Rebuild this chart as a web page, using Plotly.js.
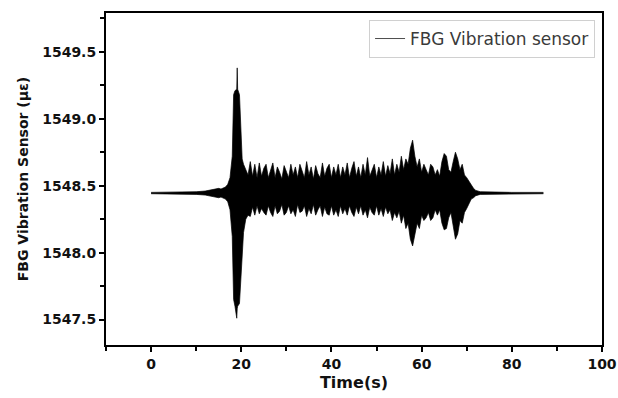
<!DOCTYPE html>
<html>
<head>
<meta charset="utf-8">
<script src="https://cdn.plot.ly/plotly-3.0.1.min.js"></script>
<style>html,body{margin:0;padding:0;background:#fff;}#chart{width:618px;height:398px;}</style>
</head>
<body>
<div id="chart"></div>
<script>
// Time (s) sample points
const timeS = [0,5,10,12,13,14,14.5,15,15.5,16,16.5,17,17.5,18,18.3,18.6,19.0,19.1,19.2,19.6,19.9,20.2,20.5,
21,21.5,22,22.5,23,23.5,24,24.5,25,25.5,26,26.5,27,27.5,28,28.5,29,29.5,30,30.5,31,31.5,32,32.5,33,33.5,34,34.5,35,35.5,36,36.5,37,37.5,38,38.5,39,39.5,40,
40.5,41,41.5,42,42.5,43,43.5,44,44.5,45,45.5,46,46.5,47,47.5,48,48.5,49,49.5,50,50.5,51,51.5,52,52.5,53,53.5,54,54.5,55,55.5,56,56.5,57,57.5,58,58.5,59,59.5,60,
60.5,61,61.5,62,62.5,63,63.5,64,64.5,65,65.5,66,66.5,67,67.5,68,68.5,69,69.5,70,70.5,71,71.5,72,73,80,87];

// Upper envelope of the FBG signal
const upperEnv = [1548.45,1548.45,1548.455,1548.46,1548.465,1548.47,1548.475,1548.48,1548.475,1548.48,1548.49,1548.51,1548.56,1548.72,1549.18,1549.21,1549.22,1549.38,1549.22,1549.18,1548.85,1548.70,1548.66,
1548.62,1548.58,1548.68,1548.57,1548.66,1548.56,1548.67,1548.57,1548.63,1548.66,1548.56,1548.62,1548.67,1548.56,1548.64,1548.60,1548.55,1548.65,1548.60,1548.56,1548.66,1548.58,1548.64,1548.56,1548.66,1548.60,1548.56,1548.68,1548.58,1548.64,1548.55,1548.65,1548.59,1548.56,1548.67,1548.57,1548.63,1548.66,1548.56,
1548.64,1548.58,1548.66,1548.56,1548.64,1548.58,1548.67,1548.56,1548.63,1548.68,1548.57,1548.64,1548.56,1548.66,1548.58,1548.71,1548.57,1548.62,1548.66,1548.56,1548.64,1548.58,1548.68,1548.57,1548.65,1548.59,1548.70,1548.58,1548.66,1548.60,1548.72,1548.62,1548.70,1548.66,1548.78,1548.84,1548.72,1548.64,1548.70,1548.60,
1548.66,1548.62,1548.58,1548.66,1548.64,1548.58,1548.62,1548.57,1548.68,1548.74,1548.72,1548.62,1548.60,1548.68,1548.75,1548.70,1548.62,1548.66,1548.58,1548.56,1548.53,1548.50,1548.48,1548.465,1548.455,1548.45,1548.45];

// Lower envelope of the FBG signal
const lowerEnv = [1548.44,1548.44,1548.435,1548.43,1548.425,1548.42,1548.415,1548.41,1548.415,1548.41,1548.40,1548.38,1548.32,1548.12,1547.65,1547.60,1547.51,1547.58,1547.60,1547.62,1547.80,1548.00,1548.15,
1548.25,1548.28,1548.27,1548.34,1548.28,1548.35,1548.29,1548.33,1548.30,1548.28,1548.35,1548.30,1548.27,1548.35,1548.29,1548.31,1548.36,1548.28,1548.30,1548.35,1548.29,1548.32,1548.27,1548.36,1548.30,1548.31,1548.35,1548.27,1548.33,1548.29,1548.36,1548.28,1548.32,1548.35,1548.27,1548.34,1548.29,1548.28,1548.35,
1548.28,1548.32,1548.27,1548.35,1548.29,1548.33,1548.28,1548.35,1548.30,1548.27,1548.34,1548.29,1548.35,1548.28,1548.32,1548.26,1548.34,1548.30,1548.28,1548.35,1548.28,1548.33,1548.27,1548.34,1548.29,1548.32,1548.24,1548.30,1548.26,1548.31,1548.22,1548.28,1548.18,1548.22,1548.10,1548.05,1548.14,1548.22,1548.18,1548.28,
1548.24,1548.26,1548.30,1548.24,1548.26,1548.32,1548.28,1548.32,1548.22,1548.17,1548.18,1548.26,1548.30,1548.20,1548.10,1548.14,1548.24,1548.22,1548.30,1548.33,1548.36,1548.40,1548.41,1548.425,1548.435,1548.44,1548.44];

const seriesName = 'FBG Vibration sensor';
const xTickVals = [0,20,40,60,80,100];
const yTickVals = [1547.5,1548.0,1548.5,1549.0,1549.5];
const yTickText = ['1547.5','1548.0','1548.5','1549.0','1549.5'];

const traces = [
  {x: timeS, y: upperEnv, type: 'scatter', mode: 'lines', name: seriesName,
   line: {color: '#000', width: 0.7}, showlegend: true, hoverinfo: 'skip'},
  {x: timeS, y: lowerEnv, type: 'scatter', mode: 'lines', name: seriesName,
   line: {color: '#000', width: 0.7}, fill: 'tonexty', fillcolor: '#000',
   showlegend: false, hoverinfo: 'skip'}
];

const boldFont = 'DejaVu Sans, Verdana, sans-serif';
const tickFont = {family: boldFont, size: 14, color: '#111', weight: 'bold'};
const layout = {
  width: 618, height: 398,
  margin: {l: 106, r: 16, t: 13, b: 53},
  paper_bgcolor: '#fff', plot_bgcolor: '#fff',
  showlegend: true,
  legend: {x: 0.986, y: 0.979, xanchor: 'right', yanchor: 'top',
    bordercolor: '#d0d0d0', borderwidth: 1, bgcolor: '#fff',
    font: {family: boldFont, size: 17, color: '#3a3a3a'}},
  xaxis: {range: [-10, 100], tickvals: xTickVals, ticks: 'outside', ticklen: 5, tickwidth: 2,
    tickcolor: '#000', showgrid: false, zeroline: false, ticklabeloverflow: 'allow',
    showline: true, linecolor: '#000', linewidth: 2, mirror: true,
    minor: {dtick: 10, tick0: 0, ticks: 'outside', ticklen: 4, tickwidth: 2, tickcolor: '#000', showgrid: false},
    tickfont: tickFont,
    title: {text: 'Time(s)', font: {family: boldFont, size: 16, color: '#111', weight: 'bold'}, standoff: 6}},
  yaxis: {range: [1547.31, 1549.79], tickvals: yTickVals, ticktext: yTickText, ticks: 'outside', ticklen: 5, tickwidth: 2,
    tickcolor: '#000', showgrid: false, zeroline: false,
    showline: true, linecolor: '#000', linewidth: 2, mirror: true,
    minor: {dtick: 0.25, tick0: 1547.5, ticks: 'outside', ticklen: 4, tickwidth: 2, tickcolor: '#000', showgrid: false},
    tickfont: tickFont,
    title: {text: 'FBG Vibration Sensor (με)', font: {family: boldFont, size: 14, color: '#111', weight: 'bold'}, standoff: 10}}
};

Plotly.newPlot('chart', traces, layout, {displayModeBar: false, staticPlot: true});
</script>
</body>
</html>
